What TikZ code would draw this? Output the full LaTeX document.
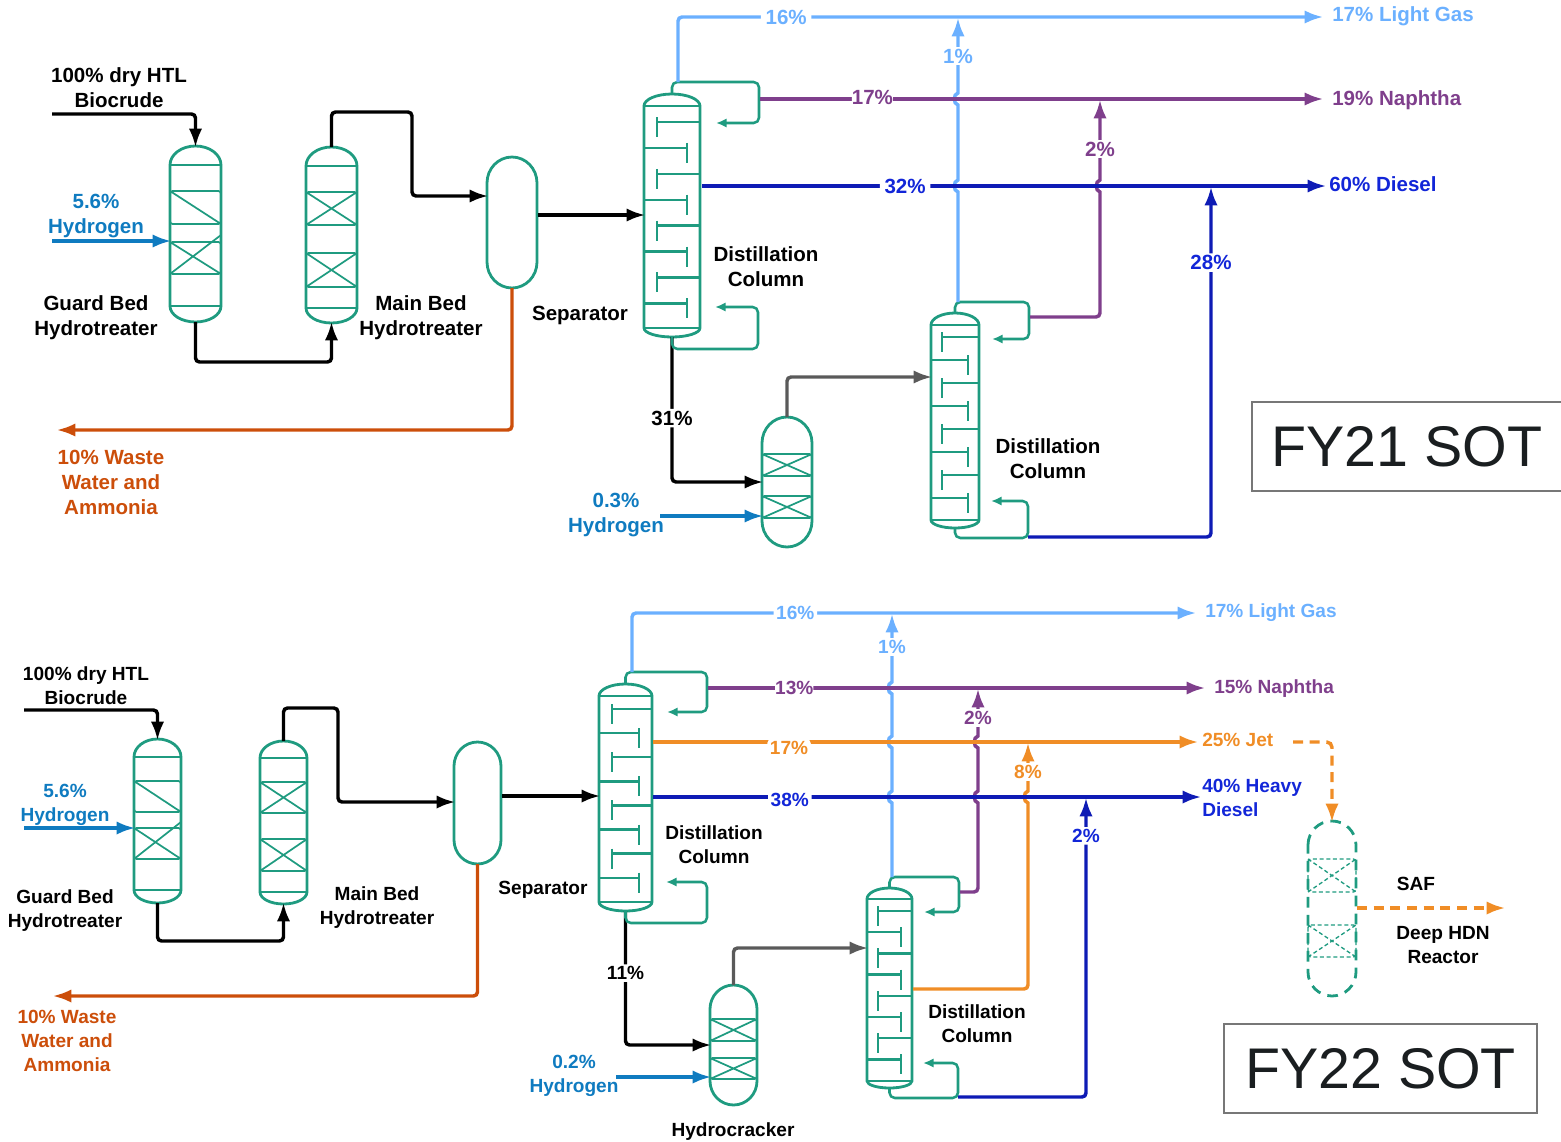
\documentclass[tikz,border=0pt]{standalone}
\usepackage{fontspec}
\setmainfont{Liberation Sans}
\usetikzlibrary{arrows.meta, positioning, calc}
\definecolor{vesselteal}{HTML}{1F9B80}
\definecolor{hydroblue}{HTML}{0F7BC0}
\definecolor{lightgas}{HTML}{6BB0FF}
\definecolor{naphtha}{HTML}{7F3F8C}
\definecolor{diesel}{HTML}{0E1BB5}
\definecolor{diesellbl}{HTML}{1226D8}
\definecolor{jetfuel}{HTML}{F08D26}
\definecolor{wastewater}{HTML}{CC4E0A}
\definecolor{offgas}{HTML}{5A5A5A}
\definecolor{sotink}{HTML}{1A1E20}
\definecolor{sotframe}{HTML}{777777}
% [style]{name}{x left}{x right}{y top}{y bottom}{top cap}{bottom cap}
\newcommand{\vesselat}[8][vessel]{%
  \node[vesselbox, minimum width={(#4-#3)*0.75pt}, minimum height={(#6-#5)*0.75pt}] (#2) at ({(#3+#4)/2},{(#5+#6)/2}) {};
  \draw[#1] (#3,#5+#7) arc[start angle=180, end angle=360, x radius={(#4-#3)/2}, y radius=#7]
    -- (#4,#6-#8) arc[start angle=0, end angle=180, x radius={(#4-#3)/2}, y radius=#8] -- cycle;
}
\newcommand{\caplines}[4]{\draw[vessel] (#1,#3) -- (#2,#3) (#1,#4) -- (#2,#4);}
\newcommand{\crossbed}[5][bed]{%
  \draw[#1] (#2,#4) rectangle (#3,#5) (#2,#4) -- (#3,#5) (#2,#5) -- (#3,#4);
}
% the guard bed: first bed has one diagonal, the second a short one
\newcommand{\guardbeds}[7]{%
  \draw[bed] (#1,#3) rectangle (#2,#4) (#1,#3) -- (#2,#4);
  \draw[bed] (#1,#5) rectangle (#2,#6) (#1,#5) -- (#2,#6) (#1,#6) -- (#2,#7);
}
\newcommand{\traysat}[6]{%
  \foreach \k in {0,1,2,3}{
    \pgfmathsetmacro{\yr}{#3+2*\k*#4}
    \pgfmathsetmacro{\yl}{\yr+#4}
    \draw[tray] (#2,\yr) -- (#5,\yr) (#5,\yr-5) -- (#5,\yr+15) (#1,\yl) -- (#6,\yl) (#6,\yl-5) -- (#6,\yl+15);
  }
}
\newcommand{\hopat}[2]{[sharp corners] -- (#1,#2+6) .. controls (#1-5,#2+5) and (#1-5,#2-5) .. (#1,#2-6)}

\begin{document}
\begin{tikzpicture}[
  x=0.75pt, y=-0.75pt,
  >={Latex[length=14pt,width=10pt]},
  vesselbox/.style={inner sep=0pt, outer sep=0pt},
  vessel/.style={draw=vesselteal, line width=2.1pt},
  dashvessel/.style={vessel, dash pattern=on 8pt off 5.5pt},
  bed/.style={draw=vesselteal, line width=1.3pt, rounded corners=2pt},
  dashbed/.style={bed, line width=1pt, dash pattern=on 3pt off 2pt},
  tray/.style={draw=vesselteal, line width=1.8pt},
  reflux/.style={draw=vesselteal, line width=1.9pt, rounded corners=4pt, -{Latex[length=8pt,width=7pt]}},
  stream/.style={->, line width=2.6pt, rounded corners=3pt, shorten >=-1pt},
  crude/.style={stream, draw=black},
  hydro/.style={stream, draw=hydroblue},
  lgline/.style={stream, draw=lightgas},
  nphline/.style={stream, draw=naphtha},
  dslline/.style={stream, draw=diesel},
  jetline/.style={stream, draw=jetfuel},
  jetdash/.style={jetline, dash pattern=on 7.5pt off 5pt, rounded corners=4pt},
  waste/.style={stream, draw=wastewater},
  gasline/.style={stream, draw=offgas},
  lbl/.style={font=\bfseries\fontsize{15.4}{18.75}\selectfont, align=center, inner sep=0pt},
  lblb/.style={font=\bfseries\fontsize{14.3}{18}\selectfont, align=center, inner sep=0pt},
  pct/.style={lbl, fill=white, inner xsep=3.5pt, inner ysep=1.5pt},
  pctb/.style={lblb, fill=white, inner xsep=2pt, inner ysep=1.5pt},
  sotbox/.style={draw=sotframe, line width=1.2pt, text=sotink, font=\fontsize{43}{50}\selectfont, inner sep=0pt}
]
\useasboundingbox (0,0) rectangle (1561,1142);

% ---- FY21 vessels
\vesselat{guardA}{170}{221}{146}{322}{19}{16}
\caplines{170}{221}{165}{306}
\guardbeds{170}{221}{191}{224}{242}{274}{235}
\vesselat{mainA}{306}{357}{147}{323}{19}{15}
\caplines{306}{357}{166}{308}
\crossbed{306}{357}{192}{225}
\crossbed{306}{357}{253}{287}
\vesselat{sepA}{487}{537}{157}{288}{26}{26}
\vesselat{colA}{644}{700}{94}{337}{12}{9}
\caplines{644}{700}{106}{328}
\traysat{644}{700}{122}{25.9}{657}{687}
\vesselat{crackA}{762}{812}{417}{547}{26}{26}
\crossbed{762}{812}{454}{476}
\crossbed{762}{812}{496}{518}
\vesselat{colB}{931}{979}{313}{528}{12}{8}
\caplines{931}{979}{325}{520}
\traysat{931}{979}{337}{23}{942}{968}

% ---- FY21 coordinates
\coordinate (feedA) at (52,114);
\coordinate (bridgeA) at (260,362);
\coordinate (routeA) at (412,112);
\coordinate (routeB) at (412,196);
\coordinate (sepout) at (538,215);
\coordinate (wasteend) at (58,430);
\coordinate (hydA) at (52,241);
\coordinate (hydB) at (660,516);
\coordinate (bottomsA) at (700,482);
\coordinate (gasA) at (880,377);
\coordinate (rtA) at (759,82);  \coordinate (rtB) at (716,123);
\coordinate (rbA) at (758,349); \coordinate (rbB) at (715,307);
\coordinate (rtC) at (1029,302); \coordinate (rtD) at (992,339);
\coordinate (rbC) at (1028,538); \coordinate (rbD) at (991,501);
\coordinate (lgstart) at (678,82);
\coordinate (lgend) at (1322,17);
\coordinate (nphstart) at (760,99);
\coordinate (nphend) at (1322,99);
\coordinate (dslstart) at (702,186);
\coordinate (dslend) at (1325,186);
\coordinate (lgsideA) at (958,302);
\coordinate (lgsideB) at (958,19);
\coordinate (nphsideA) at (1030,317);
\coordinate (nphsideB) at (1100,101);
\coordinate (dslsideA) at (1028,537);
\coordinate (dslsideB) at (1211,188);

% ---- FY21 streams
\draw[crude] (feedA) -| (guardA.north);
\draw[crude] (guardA.south) |- (bridgeA) -| (mainA.south);
\draw[crude] (mainA.north) |- (routeA) -- (routeB) -- (sepA.west |- routeB);
\draw[crude] (sepout) -- (colA.west |- sepout);
\draw[waste] (sepA.south) |- (wasteend);
\draw[hydro] (hydA) -- (guardA.west |- hydA);
\draw[hydro] (hydB) -- (crackA.west |- hydB);
\draw[crude] (colA.south) |- node[pct, pos=.28, inner xsep=1pt] {31\%} (crackA.west |- bottomsA);
\draw[gasline] (crackA.north) |- (colB.west |- gasA);
\draw[reflux] (colA.north) |- (rtA) |- (rtB);
\draw[reflux] (colA.south) |- (rbA) |- (rbB);
\draw[reflux] (colB.north) |- (rtC) |- (rtD);
\draw[reflux] (colB.south) |- (rbC) |- (rbD);
\draw[lgline] (lgsideA) \hopat{958}{186} \hopat{958}{99} -- node[pct, text=lightgas] {1\%} (lgsideB);
\draw[nphline] (nphsideA) -- (1100,317) -- (1100,250) \hopat{1100}{186} -- node[pct, pos=.39, text=naphtha] {2\%} (nphsideB);
\draw[dslline] (dslsideA) -| node[pct, pos=.893, text=diesellbl] {28\%} (dslsideB);
\draw[lgline] (lgstart) |- node[pct, pos=.584, text=lightgas] {16\%} (lgend);
\draw[nphline] (nphstart) -- node[pct, pos=.2, yshift=1.5pt, inner xsep=0pt, text=naphtha] {17\%} (nphend);
\draw[dslline] (dslstart) -- node[pct, pos=.326, text=diesellbl] {32\%} (dslend);

% ---- FY21 labels
\node[lbl] (biocrudeA) at (119,88) {100\% dry HTL\\Biocrude};
\node[lbl, text=hydroblue] (hlblA) at (96,216) {5.6\%\\Hydrogen};
\node[lbl] (guardlblA) at (96,318) {Guard Bed\\Hydrotreater};
\node[lbl] (mainlblA) at (421,318) {Main Bed\\Hydrotreater};
\node[lbl] (seplblA) at (580,315) {Separator};
\node[lbl] (collblA) at (766,267) {Distillation\\Column};
\node[lbl] (collblB) at (1048,459) {Distillation\\Column};
\node[lbl, text=wastewater] (wastelblA) at (111,482) {10\% Waste\\Water and\\Ammonia};
\node[lbl, text=hydroblue] (hlblB) at (616,515) {0.3\%\\Hydrogen};
\node[lbl, text=lightgas, anchor=west] (lgA) at (1332,16) {17\% Light Gas};
\node[lbl, text=naphtha, anchor=west] (nphA) at (1332,100) {19\% Naphtha};
\node[lbl, text=diesellbl, anchor=west] (dslA) at (1329,184) {60\% Diesel};
\node[sotbox, minimum width=232.5pt, minimum height=66.75pt] (sotA) at (1407,446.5) {FY21 SOT};

% ---- FY22 vessels
\vesselat{guardB}{134}{181}{739}{903}{18}{13}
\caplines{134}{181}{757}{890}
\guardbeds{134}{181}{781}{812}{828}{859}{822}
\vesselat{mainB}{260}{307}{741}{904}{17}{12}
\caplines{260}{307}{758}{892}
\crossbed{260}{307}{782}{813}
\crossbed{260}{307}{839}{871}
\vesselat{sepB}{454}{501}{742}{864}{24}{24}
\vesselat{colC}{599}{652}{684}{911}{12}{9}
\caplines{599}{652}{696}{902}
\traysat{599}{652}{709}{24.1}{612}{639}
\vesselat{crackB}{710}{757}{985}{1105}{24}{24}
\crossbed{710}{757}{1019}{1041}
\crossbed{710}{757}{1058}{1079}
\vesselat{colD}{867}{912}{888}{1088}{11}{7}
\caplines{867}{912}{899}{1081}
\traysat{867}{912}{911}{21.2}{878}{901}
\vesselat[dashvessel]{hdn}{1308}{1356}{821}{996}{24}{24}
\crossbed[dashbed]{1308}{1356}{859}{892}
\crossbed[dashbed]{1308}{1356}{925}{957}

% ---- FY22 coordinates
\coordinate (feedB) at (24,710);
\coordinate (bridgeB) at (220,941);
\coordinate (routeC) at (338,708);
\coordinate (routeD) at (338,802);
\coordinate (sepoutB) at (502,796);
\coordinate (wasteendB) at (54,996);
\coordinate (hydC) at (24,828);
\coordinate (hydD) at (616,1077);
\coordinate (bottomsB) at (680,1045);
\coordinate (gasB) at (830,948);
\coordinate (rtE) at (707,672);  \coordinate (rtF) at (667,712);
\coordinate (rbE) at (707,923);  \coordinate (rbF) at (666,882);
\coordinate (rtG) at (959,877);  \coordinate (rtH) at (924,912);
\coordinate (rbG) at (958,1098); \coordinate (rbH) at (923,1063);
\coordinate (lgstartB) at (632,672);
\coordinate (lgendB) at (1195,613);
\coordinate (nphstartB) at (708,688);
\coordinate (nphendB) at (1204,688);
\coordinate (jetstart) at (653,742);
\coordinate (jetend) at (1197,742);
\coordinate (dslstartB) at (653,797);
\coordinate (dslendB) at (1200,797);
\coordinate (lgsideC) at (892,877);
\coordinate (lgsideD) at (892,615);
\coordinate (nphsideC) at (960,892);
\coordinate (nphsideD) at (978,690);
\coordinate (jetsideA) at (913,989);
\coordinate (jetsideB) at (1028,744);
\coordinate (dslsideC) at (958,1097);
\coordinate (dslsideD) at (1086,799);
\coordinate (jetdashA) at (1293,742);
\coordinate (safA) at (1357,908);
\coordinate (safB) at (1504,908);

% ---- FY22 streams
\draw[crude] (feedB) -| (guardB.north);
\draw[crude] (guardB.south) |- (bridgeB) -| (mainB.south);
\draw[crude] (mainB.north) |- (routeC) -- (routeD) -- (sepB.west |- routeD);
\draw[crude] (sepoutB) -- (colC.west |- sepoutB);
\draw[waste] (sepB.south) |- (wasteendB);
\draw[hydro] (hydC) -- (guardB.west |- hydC);
\draw[hydro] (hydD) -- (crackB.west |- hydD);
\draw[crude] (colC.south) |- node[pctb, pos=.232, inner xsep=1pt] {11\%} (crackB.west |- bottomsB);
\draw[gasline] (crackB.north) |- (colD.west |- gasB);
\draw[reflux] (colC.north) |- (rtE) |- (rtF);
\draw[reflux] (colC.south) |- (rbE) |- (rbF);
\draw[reflux] (colD.north) |- (rtG) |- (rtH);
\draw[reflux] (colD.south) |- (rbG) |- (rbH);
\draw[lgline] (lgsideC) \hopat{892}{797} \hopat{892}{742} \hopat{892}{688} -- node[pctb, pos=.52, text=lightgas] {1\%} (lgsideD);
\draw[nphline] (nphsideC) -- (978,892) -- (978,850) \hopat{978}{797} \hopat{978}{742} -- node[pctb, pos=.39, text=naphtha] {2\%} (nphsideD);
\draw[jetline] (jetsideA) -- (1028,989) -- (1028,900) \hopat{1028}{797} -- node[pctb, pos=.4, text=jetfuel] {8\%} (jetsideB);
\draw[dslline] (dslsideC) -| node[pctb, pos=.938, text=diesellbl] {2\%} (dslsideD);
\draw[lgline] (lgstartB) |- node[pctb, pos=.645, text=lightgas] {16\%} (lgendB);
\draw[nphline] (nphstartB) -- node[pctb, pos=.174, inner xsep=0pt, text=naphtha] {13\%} (nphendB);
\draw[jetline] (jetstart) -- node[pctb, pos=.25, yshift=-4.5pt, text=jetfuel] {17\%} (jetend);
\draw[dslline] (dslstartB) -- node[pctb, pos=.25, yshift=-2pt, text=diesellbl] {38\%} (dslendB);
\draw[jetdash] (jetdashA) -| (hdn.north);
\draw[jetdash] (safA) -- (safB);

% ---- FY22 labels
\node[lblb] (biocrudeB) at (86,686) {100\% dry HTL\\Biocrude};
\node[lblb, text=hydroblue] (hlblC) at (65,805) {5.6\%\\Hydrogen};
\node[lblb] (guardlblB) at (65,911) {Guard Bed\\Hydrotreater};
\node[lblb] (mainlblB) at (377,908) {Main Bed\\Hydrotreater};
\node[lblb] (seplblB) at (543,890) {Separator};
\node[lblb] (collblC) at (714,845) {Distillation\\Column};
\node[lblb] (collblD) at (977,1024) {Distillation\\Column};
\node[lblb, text=wastewater] (wastelblB) at (67,1041) {10\% Waste\\Water and\\Ammonia};
\node[lblb, text=hydroblue] (hlblD) at (574,1076) {0.2\%\\Hydrogen};
\node[lblb] (cracklbl) at (733,1132) {Hydrocracker};
\node[lblb, text=lightgas, anchor=west] (lgB) at (1205,613) {17\% Light Gas};
\node[lblb, text=naphtha, anchor=west] (nphB) at (1214,689) {15\% Naphtha};
\node[lblb, text=jetfuel, anchor=west] (jetB) at (1202,740) {25\% Jet};
\node[lblb, text=diesellbl, anchor=west, align=left] (dslB) at (1202,798) {40\% Heavy\\Diesel};
\node[lblb] (saflbl) at (1416,884) {SAF};
\node[lblb] (hdnlbl) at (1443,945) {Deep HDN\\Reactor};
\node[sotbox, minimum width=234.75pt, minimum height=66.75pt] (sotB) at (1380.5,1068.5) {FY22 SOT};
\end{tikzpicture}
\end{document}
